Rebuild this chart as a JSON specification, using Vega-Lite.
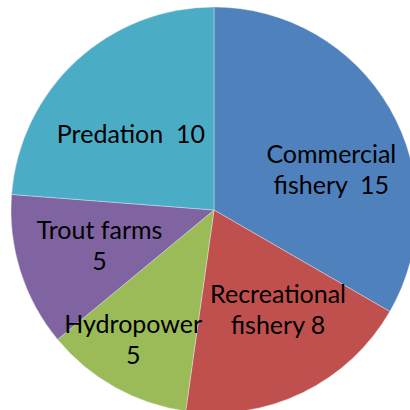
{
  "$schema": "https://vega.github.io/schema/vega-lite/v6.json",
  "width": 428,
  "height": 420,
  "padding": 0,
  "autosize": {"type": "none"},
  "background": "white",
  "config": {"view": {"stroke": null}},
  "data": {
    "values": [
      {"idx": 1, "category": "Commercial fishery", "value": 15, "label": "Commercial\nfishery\u00a0 15"},
      {"idx": 2, "category": "Recreational fishery", "value": 8.5, "label": "Recreational\nfishery 8"},
      {"idx": 3, "category": "Hydropower", "value": 5.3, "label": "Hydropower\n5"},
      {"idx": 4, "category": "Trout farms", "value": 5.5, "label": "Trout farms\n5"},
      {"idx": 5, "category": "Predation", "value": 10.7, "label": "Predation\u00a0 10"}
    ]
  },
  "encoding": {
    "theta": {"field": "value", "type": "quantitative", "stack": true},
    "order": {"field": "idx", "type": "quantitative"}
  },
  "layer": [
    {
      "mark": {"type": "arc", "outerRadius": 203, "stroke": "#e8eef5", "strokeWidth": 0.4},
      "encoding": {
        "color": {
          "field": "category", "type": "nominal", "legend": null,
          "scale": {
            "domain": ["Commercial fishery", "Recreational fishery", "Hydropower", "Trout farms", "Predation"],
            "range": ["#4F81BD", "#C0504D", "#9BBB59", "#8064A2", "#4BACC6"]
          }
        }
      }
    },
    {
      "mark": {"type": "text", "radius": 124, "thetaOffset": 0.194, "dy": -15, "font": "Lato", "fontSize": 25, "lineHeight": 31, "color": "black", "align": "center", "baseline": "middle", "lineBreak": "\n"},
      "encoding": {"text": {"condition": {"test": "datum.idx === 1", "field": "label"}, "value": ""}}
    },
    {
      "mark": {"type": "text", "radius": 118, "thetaOffset": -0.12, "dy": -14, "font": "Lato", "fontSize": 25, "lineHeight": 31, "color": "black", "align": "center", "baseline": "middle", "lineBreak": "\n"},
      "encoding": {"text": {"condition": {"test": "datum.idx === 2", "field": "label"}, "value": ""}}
    },
    {
      "mark": {"type": "text", "radius": 153, "thetaOffset": 0.047, "dy": -15, "font": "Lato", "fontSize": 25, "lineHeight": 31, "color": "black", "align": "center", "baseline": "middle", "lineBreak": "\n"},
      "encoding": {"text": {"condition": {"test": "datum.idx === 3", "field": "label"}, "value": ""}}
    },
    {
      "mark": {"type": "text", "radius": 120, "thetaOffset": 0.0, "dy": -15, "font": "Lato", "fontSize": 25, "lineHeight": 31, "color": "black", "align": "center", "baseline": "middle", "lineBreak": "\n"},
      "encoding": {"text": {"condition": {"test": "datum.idx === 4", "field": "label"}, "value": ""}}
    },
    {
      "mark": {"type": "text", "radius": 109, "thetaOffset": -0.065, "dx": -4, "font": "Lato", "fontSize": 25, "lineHeight": 31, "color": "black", "align": "center", "baseline": "middle", "lineBreak": "\n"},
      "encoding": {"text": {"condition": {"test": "datum.idx === 5", "field": "label"}, "value": ""}}
    }
  ]
}
